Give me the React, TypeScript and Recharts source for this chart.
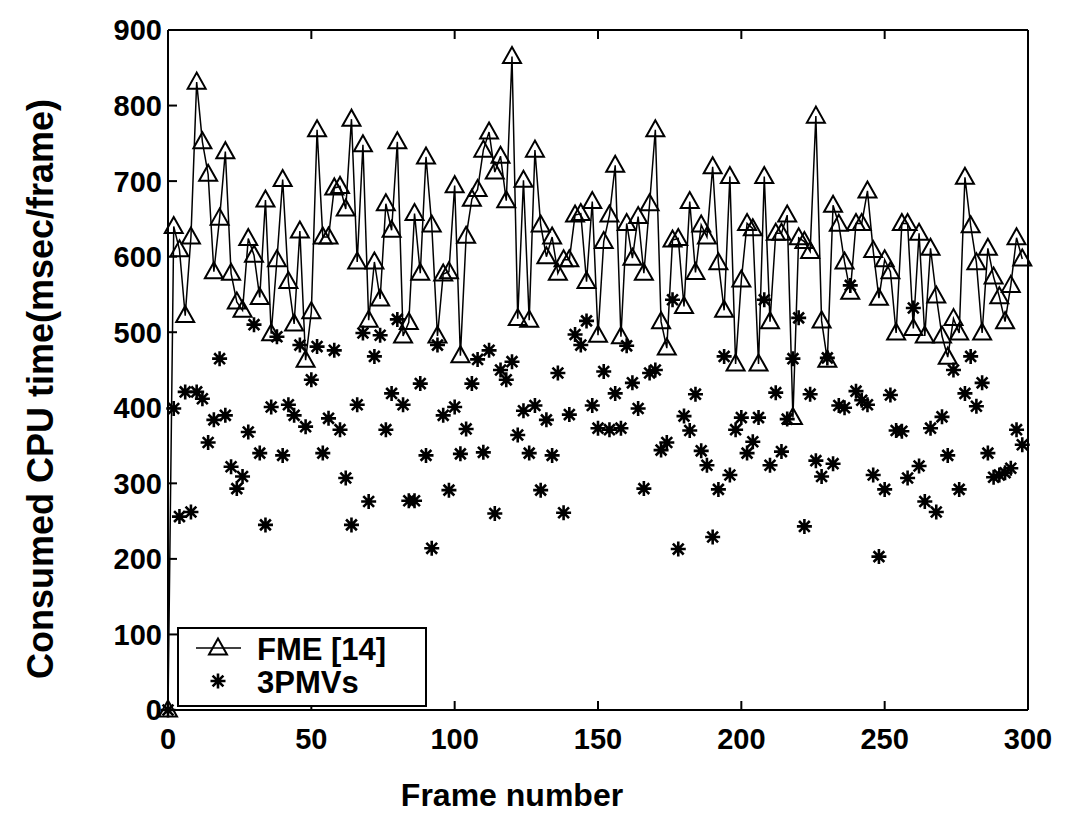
import React from "react";
import { ComposedChart, Line, XAxis, YAxis, Legend } from "recharts";

// frame numbers (every second frame)
const FRAMES = [
  0, 2, 4, 6, 8, 10, 12, 14, 16, 18,
  20, 22, 24, 26, 28, 30, 32, 34, 36, 38,
  40, 42, 44, 46, 48, 50, 52, 54, 56, 58,
  60, 62, 64, 66, 68, 70, 72, 74, 76, 78,
  80, 82, 84, 86, 88, 90, 92, 94, 96, 98,
  100, 102, 104, 106, 108, 110, 112, 114, 116, 118,
  120, 122, 124, 126, 128, 130, 132, 134, 136, 138,
  140, 142, 144, 146, 148, 150, 152, 154, 156, 158,
  160, 162, 164, 166, 168, 170, 172, 174, 176, 178,
  180, 182, 184, 186, 188, 190, 192, 194, 196, 198,
  200, 202, 204, 206, 208, 210, 212, 214, 216, 218,
  220, 222, 224, 226, 228, 230, 232, 234, 236, 238,
  240, 242, 244, 246, 248, 250, 252, 254, 256, 258,
  260, 262, 264, 266, 268, 270, 272, 274, 276, 278,
  280, 282, 284, 286, 288, 290, 292, 294, 296, 298,
];

// FME [14] (msec/frame)
const FME = [
  0, 640, 609, 522, 626, 831, 752, 709, 580, 651,
  739, 578, 540, 529, 624, 602, 546, 675, 498, 596,
  702, 567, 511, 634, 463, 527, 768, 626, 626, 691,
  693, 663, 782, 593, 748, 516, 593, 544, 670, 635,
  752, 495, 513, 657, 578, 732, 642, 495, 577, 580,
  694, 469, 627, 676, 689, 741, 765, 712, 733, 674,
  865, 518, 701, 516, 741, 642, 600, 626, 578, 596,
  596, 655, 657, 567, 673, 496, 620, 655, 721, 494,
  644, 598, 653, 578, 670, 768, 514, 479, 622, 624,
  534, 673, 579, 642, 626, 719, 592, 529, 706, 458,
  569, 644, 637, 458, 706, 514, 631, 631, 655, 387,
  625, 620, 607, 786, 515, 463, 668, 643, 593, 553,
  644, 644, 687, 608, 545, 596, 580, 499, 644, 644,
  505, 631, 495, 611, 548, 495, 467, 518, 499, 705,
  641, 592, 499, 611, 573, 547, 514, 562, 625, 597,
];

// 3PMVs (msec/frame)
const PMV = [
  0, 399, 256, 421, 262, 421, 412, 354, 384, 465,
  390, 322, 293, 309, 368, 510, 340, 245, 401, 494,
  337, 404, 390, 483, 375, 437, 481, 340, 386, 476,
  371, 307, 245, 404, 499, 276, 468, 496, 371, 419,
  517, 404, 277, 277, 432, 337, 214, 483, 390, 291,
  401, 339, 372, 432, 464, 341, 476, 260, 450, 437,
  461, 364, 396, 340, 403, 291, 384, 337, 446, 261,
  391, 497, 483, 515, 403, 373, 448, 371, 419, 373,
  482, 433, 399, 293, 446, 450, 344, 354, 543, 213,
  389, 370, 418, 343, 324, 229, 292, 468, 311, 371,
  387, 340, 355, 387, 543, 324, 420, 342, 385, 465,
  519, 243, 418, 330, 309, 466, 326, 403, 400, 562,
  422, 410, 404, 311, 203, 292, 417, 370, 369, 307,
  532, 323, 276, 373, 262, 388, 337, 450, 292, 419,
  468, 402, 433, 340, 308, 311, 314, 320, 371, 351,
];

const X_TICKS = [0, 50, 100, 150, 200, 250, 300];
const Y_TICKS = [0, 100, 200, 300, 400, 500, 600, 700, 800, 900];

const FONT = '"Liberation Sans", Arial, Helvetica, sans-serif';

const data = FRAMES.map((frame, i) => ({ frame, fme: FME[i], pmv: PMV[i] }));

function triPoints(cx: number, cy: number) {
  return `${cx},${cy - 9.5} ${cx - 9},${cy + 6.5} ${cx + 9},${cy + 6.5}`;
}

function TriangleDot(props: any) {
  const { cx, cy, index } = props;
  if (cx == null || cy == null) return <g key={`t${index}`} />;
  return (
    <polygon
      key={`t${index}`}
      points={triPoints(cx, cy)}
      fill="none"
      stroke="#000"
      strokeWidth={2}
    />
  );
}

function starPath(cx: number, cy: number, r: number) {
  const d = r * 0.72;
  return (
    `M${cx - r},${cy}L${cx + r},${cy}` +
    `M${cx},${cy - r}L${cx},${cy + r}` +
    `M${cx - d},${cy - d}L${cx + d},${cy + d}` +
    `M${cx - d},${cy + d}L${cx + d},${cy - d}`
  );
}

function StarDot(props: any) {
  const { cx, cy, index } = props;
  if (cx == null || cy == null) return <g key={`s${index}`} />;
  return (
    <path
      key={`s${index}`}
      d={starPath(cx, cy, 7.5)}
      stroke="#000"
      strokeWidth={2.6}
      fill="none"
    />
  );
}

const labelStyle = {
  fontFamily: FONT,
  fontWeight: 700,
  fontSize: 29,
  fill: "#000",
};

function BottomTick(props: any) {
  const { x, y, payload } = props;
  return (
    <g>
      <line x1={x} y1={y} x2={x} y2={y - 9} stroke="#000" strokeWidth={2} />
      <text x={x} y={y + 18} dy="0.71em" textAnchor="middle" {...labelStyle}>
        {payload.value}
      </text>
    </g>
  );
}

function TopTick(props: any) {
  const { x, y } = props;
  return <line x1={x} y1={y} x2={x} y2={y + 9} stroke="#000" strokeWidth={2} />;
}

function LeftTick(props: any) {
  const { x, y, payload } = props;
  return (
    <g>
      <line x1={x} y1={y} x2={x + 9} y2={y} stroke="#000" strokeWidth={2} />
      <text x={x - 6} y={y} dy="0.36em" textAnchor="end" {...labelStyle}>
        {payload.value}
      </text>
    </g>
  );
}

function RightTick(props: any) {
  const { x, y } = props;
  return <line x1={x} y1={y} x2={x - 9} y2={y} stroke="#000" strokeWidth={2} />;
}

function LegendBox() {
  return (
    <svg width={250} height={80} style={{ display: "block" }}>
      <rect x={1} y={1} width={248} height={78} fill="#fff" stroke="#000" strokeWidth={2} />
      <line x1={19} y1={21} x2={64} y2={21} stroke="#000" strokeWidth={1.5} />
      <polygon points={triPoints(41, 21)} fill="none" stroke="#000" strokeWidth={2} />
      <text x={80} y={33} fontFamily={FONT} fontWeight={700} fontSize={31}>
        FME [14]
      </text>
      <path d={starPath(41, 54, 7.5)} stroke="#000" strokeWidth={2.6} fill="none" />
      <text x={80} y={66} fontFamily={FONT} fontWeight={700} fontSize={31}>
        3PMVs
      </text>
    </svg>
  );
}

export default function App() {
  return (
    <div
      style={{
        position: "absolute",
        left: 0,
        top: 0,
        width: 1075,
        height: 813,
        background: "#fff",
      }}
    >
      <ComposedChart
        width={1075}
        height={813}
        data={data}
        margin={{ top: 20, right: 37, bottom: 73, left: 108 }}
      >
        <XAxis
          dataKey="frame"
          type="number"
          domain={[0, 300]}
          ticks={X_TICKS}
          tick={<BottomTick />}
          tickSize={0}
          tickMargin={0}
          tickLine={false}
          height={30}
          axisLine={{ stroke: "#000", strokeWidth: 2 }}
          label={{
            content: () => (
              <text x={512} y={806} textAnchor="middle" fontFamily={FONT} fontWeight={700} fontSize={32}>
                Frame number
              </text>
            ),
          }}
        />
        <XAxis
          xAxisId="top"
          orientation="top"
          dataKey="frame"
          type="number"
          domain={[0, 300]}
          ticks={X_TICKS}
          tick={<TopTick />}
          tickSize={0}
          tickMargin={0}
          tickLine={false}
          height={10}
          axisLine={{ stroke: "#000", strokeWidth: 2 }}
        />
        <YAxis
          type="number"
          domain={[0, 900]}
          ticks={Y_TICKS}
          tick={<LeftTick />}
          tickSize={0}
          tickMargin={0}
          tickLine={false}
          width={60}
          axisLine={{ stroke: "#000", strokeWidth: 2 }}
          label={{
            content: () => (
              <text
                x={40}
                y={389}
                textAnchor="middle"
                dominantBaseline="central"
                transform="rotate(-90 40 389)"
                fontFamily={FONT}
                fontWeight={700}
                fontSize={36}
              >
                Consumed CPU time(msec/frame)
              </text>
            ),
          }}
        />
        <YAxis
          yAxisId="right"
          orientation="right"
          type="number"
          domain={[0, 900]}
          ticks={Y_TICKS}
          tick={<RightTick />}
          tickSize={0}
          tickMargin={0}
          tickLine={false}
          width={10}
          axisLine={{ stroke: "#000", strokeWidth: 2 }}
        />
        <Legend
          layout="vertical"
          align="center"
          verticalAlign="middle"
          content={() => <LegendBox />}
          wrapperStyle={{ left: 177, top: 627, width: 250, height: 80 }}
        />
        <Line
          type="linear"
          dataKey="fme"
          name="FME [14]"
          stroke="#000"
          strokeWidth={1.5}
          dot={TriangleDot}
          activeDot={false}
          isAnimationActive={false}
        />
        <Line
          type="linear"
          dataKey="pmv"
          name="3PMVs"
          stroke="none"
          strokeWidth={0}
          dot={StarDot}
          activeDot={false}
          isAnimationActive={false}
        />
      </ComposedChart>
    </div>
  );
}
